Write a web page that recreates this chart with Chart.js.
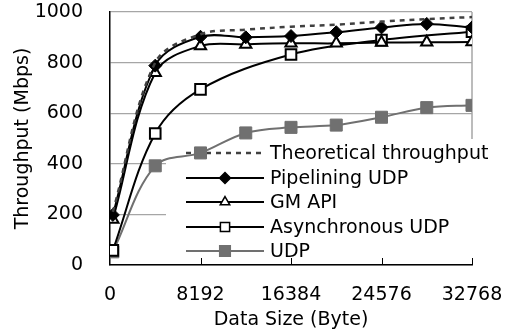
<!DOCTYPE html>
<html>
<head>
<meta charset="utf-8">
<script src="https://cdn.jsdelivr.net/npm/chart.js@4"></script>
<style>
  html, body { margin: 0; padding: 0; background: #fff; }
  #wrap { width: 505px; height: 330px; }
</style>
</head>
<body>
<div id="wrap"><canvas id="throughputChart"></canvas></div>
<script>
// data sizes in bytes
const sizes = [256, 4096, 8192, 12288, 16384, 20480, 24576, 28672, 32768];
const asyncSizes = [256, 4096, 8192, 16384, 24576, 32768];

const theoretical = [210, 800, 912, 930, 942, 950, 962, 972, 980];
const pipelining = [198, 788, 902, 900, 905, 920, 939, 953, 939];
const gmApi = [180, 760, 866, 872, 876, 876, 879, 880, 881];
const asyncUdp = [58, 520, 694, 832, 889, 922];
const udp = [52, 392, 443, 522, 544, 553, 584, 622, 631];

const xTicks = [0, 8192, 16384, 24576, 32768];

const FONT = "'DejaVu Sans', sans-serif";
const FSIZE = 19;
const GRID = '#a6a6a6';
const GRAY = '#707070';

function pts(xs, ys) {
    return xs.map((x, i) => ({ x: x, y: ys[i] }));
}

// legend inside the plot, drawn under the data lines like the original
const insideLegend = {
    id: 'insideLegend',
    beforeDatasetsDraw(chart) {
        const ctx = chart.ctx;
        const area = chart.chartArea;
        ctx.save();
        ctx.fillStyle = '#fff';
        ctx.fillRect(166, 141, 330, 116);
        // right border of plot, above legend
        ctx.strokeStyle = GRID;
        ctx.lineWidth = 1.5;
        ctx.beginPath();
        ctx.moveTo(area.right, area.top);
        ctx.lineTo(area.right, 139);
        ctx.stroke();

        const rows = [153, 178, 202, 227, 251];
        chart.data.datasets.forEach((ds, i) => {
            const y = rows[i];
            ctx.save();
            ctx.strokeStyle = ds.borderColor;
            ctx.lineWidth = ds.borderWidth;
            ctx.setLineDash(ds.borderDash || []);
            ctx.beginPath();
            ctx.moveTo(186, y);
            ctx.lineTo(264, y);
            ctx.stroke();
            ctx.restore();
            if (ds.pointRadius > 0) {
                ctx.save();
                ctx.fillStyle = ds.pointBackgroundColor;
                ctx.strokeStyle = ds.pointBorderColor;
                Chart.helpers.drawPoint(ctx, {
                    pointStyle: ds.pointStyle,
                    radius: ds.pointRadius - 1,
                    rotation: 0,
                    borderWidth: ds.pointBorderWidth
                }, 225, y);
                ctx.restore();
            }
            ctx.fillStyle = '#000';
            ctx.font = FSIZE + 'px ' + FONT;
            ctx.textBaseline = 'middle';
            ctx.fillText(ds.label, 270, y + 1);
        });
        ctx.restore();
    },
    afterDraw(chart) {
        // small inward tick marks on the x axis
        const ctx = chart.ctx;
        const xs = chart.scales.x;
        const bottom = chart.chartArea.bottom;
        ctx.save();
        ctx.strokeStyle = '#000';
        ctx.lineWidth = 1;
        xTicks.slice(1).forEach(v => {
            const px = Math.round(xs.getPixelForValue(v)) + 0.5;
            ctx.beginPath();
            ctx.moveTo(px, bottom);
            ctx.lineTo(px, bottom - 7);
            ctx.stroke();
        });
        ctx.restore();
    }
};

new Chart(document.getElementById('throughputChart'), {
    type: 'line',
    data: {
        datasets: [{
            label: 'Theoretical throughput',
            data: pts(sizes, theoretical),
            borderColor: '#404040',
            borderWidth: 2.5,
            borderDash: [5, 5],
            pointRadius: 0,
            tension: 0.35
        }, {
            label: 'Pipelining UDP',
            data: pts(sizes, pipelining),
            borderColor: '#000',
            borderWidth: 2,
            pointStyle: 'rectRot',
            pointRadius: 6.5,
            pointBackgroundColor: '#000',
            pointBorderColor: '#000',
            pointBorderWidth: 1,
            tension: 0.35
        }, {
            label: 'GM API',
            data: pts(sizes, gmApi),
            borderColor: '#000',
            borderWidth: 2,
            pointStyle: 'triangle',
            pointRadius: 6.5,
            pointBackgroundColor: '#fff',
            pointBorderColor: '#000',
            pointBorderWidth: 2,
            tension: 0.35
        }, {
            label: 'Asynchronous UDP',
            data: pts(asyncSizes, asyncUdp),
            borderColor: '#000',
            borderWidth: 2,
            pointStyle: 'rect',
            pointRadius: 7.5,
            pointBackgroundColor: '#fff',
            pointBorderColor: '#000',
            pointBorderWidth: 2,
            tension: 0.35
        }, {
            label: 'UDP',
            data: pts(sizes, udp),
            borderColor: GRAY,
            borderWidth: 2,
            pointStyle: 'rect',
            pointRadius: 8.5,
            pointBackgroundColor: GRAY,
            pointBorderColor: GRAY,
            pointBorderWidth: 1,
            tension: 0.35
        }]
    },
    options: {
        responsive: true,
        maintainAspectRatio: false,
        animation: false,
        layout: {
            padding: { left: 0, right: 33, top: 12, bottom: 0 }
        },
        plugins: {
            legend: { display: false },
            tooltip: { enabled: false }
        },
        scales: {
            x: {
                type: 'linear',
                min: 0,
                max: 32768,
                afterBuildTicks: scale => {
                    scale.ticks = xTicks.map(v => ({ value: v }));
                },
                afterFit: scale => {
                    scale.height = 65;
                    scale.paddingLeft = 0;
                    scale.paddingRight = 0;
                },
                grid: { display: false, drawTicks: false },
                border: { display: true, color: '#000', width: 1.5 },
                ticks: {
                    color: '#000',
                    font: { family: FONT, size: FSIZE },
                    padding: 19,
                    maxRotation: 0,
                    callback: v => String(v)
                },
                title: {
                    display: true,
                    text: 'Data Size (Byte)',
                    color: '#000',
                    font: { family: FONT, size: FSIZE },
                    padding: { top: 0, bottom: -1 }
                }
            },
            y: {
                min: 0,
                max: 1000,
                afterFit: scale => {
                    scale.width = 110;
                    scale.paddingTop = 0;
                    scale.paddingBottom = 0;
                },
                grid: { color: GRID, lineWidth: 1.2, drawTicks: false },
                border: { display: true, color: '#000', width: 1.5 },
                ticks: {
                    stepSize: 200,
                    color: '#000',
                    font: { family: FONT, size: FSIZE },
                    padding: 27,
                    callback: v => String(v)
                },
                title: {
                    display: true,
                    text: 'Throughput (Mbps)',
                    color: '#000',
                    font: { family: FONT, size: FSIZE },
                    padding: { top: 12, bottom: 0 }
                }
            }
        }
    },
    plugins: [insideLegend]
});
</script>
</body>
</html>
